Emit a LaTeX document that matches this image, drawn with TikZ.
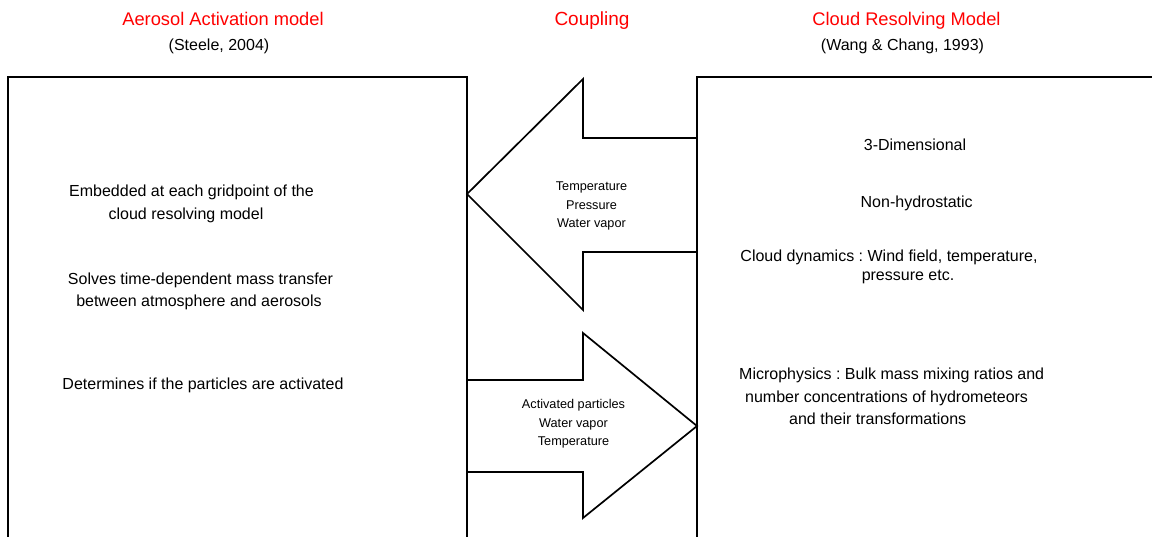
\documentclass[tikz,border=0pt]{standalone}
\usepackage{fontspec}
\setmainfont{Liberation Sans}
\definecolor{titlered}{RGB}{255,0,0}
\frenchspacing
\begin{document}
\begin{tikzpicture}[x=1pt,y=-1pt,
  box/.style={draw,line width=1.9pt,rectangle,inner sep=0pt,outer sep=0pt},
  blockarrow/.style={draw,line width=1.7pt,line join=miter,fill=white},
  title/.style={text=titlered,font=\fontsize{18.3}{22}\selectfont,anchor=base,inner sep=0pt},
  cite/.style={font=\fontsize{16}{19}\selectfont,anchor=base,inner sep=0pt},
  body/.style={font=\fontsize{16}{19}\selectfont,anchor=base,inner sep=0pt},
  bodyw/.style={font=\fontsize{16}{19}\selectfont,anchor=base west,inner sep=0pt},
  small/.style={font=\fontsize{12.7}{15}\selectfont,anchor=base,inner sep=0pt}]
\useasboundingbox (0,0) rectangle (1152,536);
\clip (0,0) rectangle (1152,536);

% boxes (extend past the lower and right edges)
\node[box,minimum width=459pt,minimum height=483pt] (aam) at (237.5,318.5) {};
\node[box,minimum width=473pt,minimum height=483pt] (crm) at (933.5,318.5) {};

% block arrows
\coordinate (la1) at (crm.west |- 0,138);
\coordinate (la2) at (crm.west |- 0,252);
\coordinate (ltip) at (aam.east |- 0,194);
\draw[blockarrow] (la1) -- (583,138) -- (583,79) -- (ltip) -- (583,310) -- (583,252) -- (la2) -- cycle;
\coordinate (ra1) at (aam.east |- 0,380);
\coordinate (ra2) at (aam.east |- 0,472);
\coordinate (rtip) at (crm.west |- 0,426);
\draw[blockarrow] (ra1) -- (583,380) -- (583,333) -- (rtip) -- (583,518) -- (583,472) -- (ra2) -- cycle;

% titles
\node[title] (t1) at (223,25) {Aerosol Activation model};
\node[cite] (c1) at (219,50) {(Steele, 2004)};
\node[title,font=\fontsize{19}{22}\selectfont] (t2) at (592,25) {Coupling};
\node[title] (t3) at (906.5,25) {Cloud Resolving Model};
\node[cite] (c3) at (902.5,50) {(Wang \& Chang, 1993)};

% left box text
\node[body] (l1) at (191.5,196.7) {Embedded at each gridpoint of the};
\node[body] (l2) at (186,219.3) {cloud resolving model};
\node[body] (l3) at (200.5,284) {Solves time-dependent mass transfer};
\node[body] (l4) at (199,306.7) {between atmosphere and aerosols};
\node[body] (l5) at (203,389.3) {Determines if the particles are activated};

% right box text
\node[body] (r1) at (915,150) {3-Dimensional};
\node[body] (r2) at (916.7,207.3) {Non-hydrostatic};
\node[body] (r3) at (889,261) {Cloud dynamics : Wind field, temperature,};
\node[body] (r4) at (908,280) {pressure etc.};
\node[bodyw] (r5) at (739,379.5) {Microphysics : Bulk mass mixing ratios and};
\node[bodyw] (r6) at (745,402.5) {number concentrations of hydrometeors};
\node[bodyw] (r7) at (789,424.5) {and their transformations};

% arrow labels
\node[small] (a1) at (591.5,190.7) {Temperature};
\node[small] (a2) at (591.5,209) {Pressure};
\node[small] (a3) at (591.5,227.3) {Water vapor};
\node[small] (b1) at (573.5,408.7) {Activated particles};
\node[small] (b2) at (573.5,427.3) {Water vapor};
\node[small] (b3) at (573.5,445) {Temperature};
\end{tikzpicture}
\end{document}
